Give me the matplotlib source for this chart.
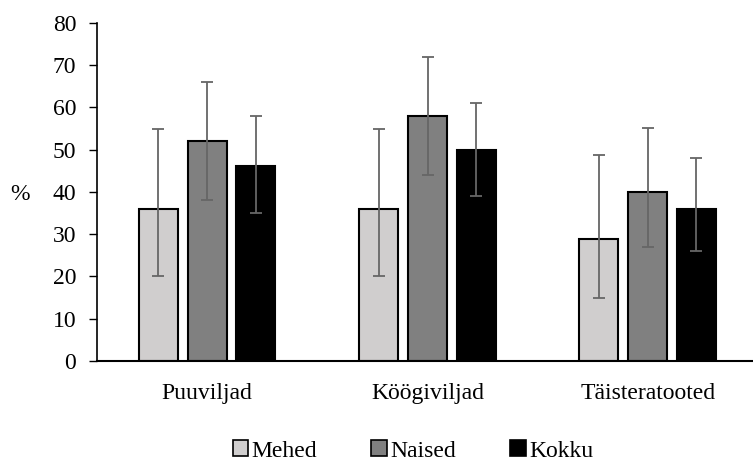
import matplotlib
matplotlib.use("Agg")
import matplotlib.pyplot as plt
import numpy as np

categories = ["Puuviljad", "Köögiviljad", "Täisteratooted"]
series = ["Mehed", "Naised", "Kokku"]
values = {
    "Mehed": [36, 36, 28.8],
    "Naised": [52, 58, 40],
    "Kokku": [46, 50, 36],
}
err_low = {
    "Mehed": [20, 20, 14.8],
    "Naised": [38, 44, 27],
    "Kokku": [35, 39, 26],
}
err_high = {
    "Mehed": [54.8, 54.8, 48.6],
    "Naised": [66, 72, 55],
    "Kokku": [58, 61, 48],
}
colors = {"Mehed": "#D0CECE", "Naised": "#808080", "Kokku": "#000000"}
yticks = [0, 10, 20, 30, 40, 50, 60, 70, 80]

plt.rcParams["font.family"] = ["Liberation Serif", "DejaVu Serif"]
FS = 17

fig = plt.figure(figsize=(7.53, 4.63), dpi=100)
ax = fig.add_axes([97/753, (463-361)/463, 1 - 97/753, (361-22.7)/463])

x = np.arange(len(categories))
offsets = [-0.222, 0, 0.22]
width = 0.177
for s, off in zip(series, offsets):
    v = np.array(values[s])
    lo = v - np.array(err_low[s])
    hi = np.array(err_high[s]) - v
    ax.bar(x + off, v, width, color=colors[s], edgecolor="black", linewidth=1.5,
           label=s, zorder=2)
    ax.errorbar(x + off, v, yerr=[lo, hi], fmt="none", ecolor="#666666",
                elinewidth=1.3, capsize=4, capthick=1.3, zorder=3)

ax.set_xlim(-0.5, 2.477)
ax.set_ylim(0, 80)
ax.set_yticks(yticks)
ax.set_xticks(x)
ax.set_xticklabels(categories)
ax.tick_params(axis="x", length=0, pad=16, labelsize=FS)
ax.tick_params(axis="y", length=6, width=1, pad=9, labelsize=FS, direction="out")
for sp in ["top", "right"]:
    ax.spines[sp].set_visible(False)
ax.spines["left"].set_linewidth(1.2)
ax.spines["bottom"].set_linewidth(1.5)

fig.text(20/753, 1 - 195/463, "%", fontsize=FS, ha="center", va="center")

leg = fig.legend(loc="center", bbox_to_anchor=(413/753, 1 - 451/463), ncol=3,
                 frameon=False, fontsize=FS, handlelength=0.65, handleheight=0.65,
                 handletextpad=0.15, columnspacing=2.3, borderpad=0)
for h in leg.legend_handles:
    h.set_linewidth(1.2)

fig.savefig("out.png", dpi=100)
